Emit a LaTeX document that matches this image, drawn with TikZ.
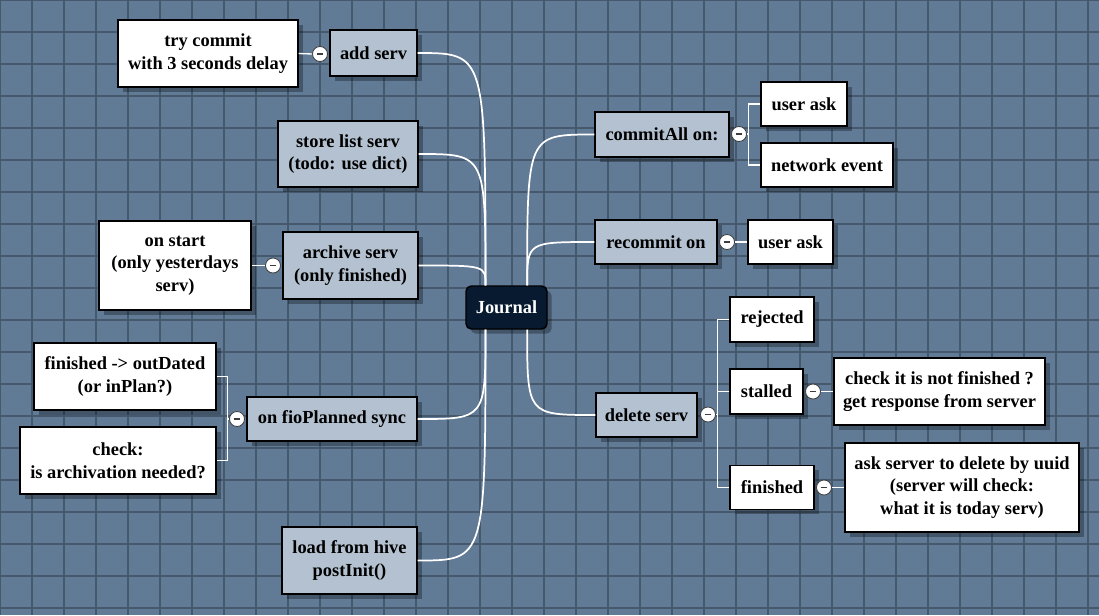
\documentclass[tikz,border=0pt]{standalone}
\usepackage{fontspec}
\setmainfont{Liberation Serif}
\usetikzlibrary{shadows}

\definecolor{mapbg}{RGB}{97,122,150}
\definecolor{mapgrid}{RGB}{70,88,108}
\definecolor{branchfill}{RGB}{179,193,208}
\definecolor{rootfill}{RGB}{7,26,48}
\definecolor{foldline}{RGB}{60,60,60}

\tikzset{every picture/.style={line width=0.75pt}}
\tikzset{
  mapbox/.style={draw=black, line width=1.1pt, align=center, inner sep=0pt,
    font=\bfseries\fontsize{13.8}{17}\selectfont,
    drop shadow={shadow xshift=3.5pt, shadow yshift=-3.5pt, fill=black, opacity=0.3}},
  branch/.style={mapbox, fill=branchfill},
  leaf/.style={mapbox, fill=white},
  rootbox/.style={mapbox, fill=rootfill, text=white, rounded corners=4pt},
  boxw/.style={minimum width=#1*0.75pt},
  boxh/.style={minimum height=#1*0.75pt},
  fold/.style={circle, draw=foldline, line width=0.6pt, fill=white, minimum size=11.25pt, inner sep=0pt,
    path picture={\draw[line width=0.8pt] ([xshift=-2.6pt]path picture bounding box.center) -- ([xshift=2.6pt]path picture bounding box.center);}},
  edge/.style={draw=white, line width=1.3pt},
  tick/.style={draw=white, line width=1pt},
  gridline/.style={draw=mapgrid, line width=1.2pt}
}

\begin{document}
\begin{tikzpicture}[x=0.75pt,y=0.75pt,yscale=-1,xscale=1]
	\useasboundingbox (0,0) rectangle (1099,615);
	\fill[mapbg] (0,0) rectangle (1099,615);
	%grid
	\foreach \gx in {0,32,...,1088} \draw[gridline] (\gx,0) -- (\gx,615);
	\foreach \gy in {0,32,...,608} \draw[gridline] (0,\gy) -- (1099,\gy);
	
	%root
	\node[rootbox, boxw=81, boxh=43] (journal) at (506.5,307.5) {Journal};
	\coordinate (jtl) at ([xshift=-15.75pt]journal.north);
	\coordinate (jbl) at ([xshift=-15.75pt]journal.south);
	\coordinate (jtr) at ([xshift=15.5pt]journal.north);
	\coordinate (jbr) at ([xshift=15.5pt]journal.south);
	
	%left branches
	\node[branch, boxw=87, boxh=46] (addserv) at (373.5,53) {add serv};
	\node[branch, boxw=140, boxh=66] (storelist) at (348,154) {store list serv\\(todo: use dict)};
	\node[branch, boxw=135, boxh=67] (archive) at (350.5,265.5) {archive serv\\(only finished)};
	\node[branch, boxw=170, boxh=44] (fiosync) at (332,419) {on fioPlanned sync};
	\node[branch, boxw=135, boxh=67] (loadhive) at (349.5,560.5) {load from hive\\postInit()};
	
	\node[leaf, boxw=180, boxh=67] (trycommit) at (208,53.5) {try commit\\with 3 seconds delay};
	\node[leaf, boxw=152, boxh=89] (onstart) at (175,265.5) {on start\\(only yesterdays\\serv)};
	\node[leaf, boxw=182, boxh=67] (outdated) at (125,376.5) {finished -> outDated\\(or inPlan?)};
	\node[leaf, boxw=196, boxh=67] (checkarch) at (118,460.5) {check:\\is archivation needed?};
	
	%right branches
	\node[branch, boxw=134, boxh=45] (commitall) at (662,134.5) {commitAll on:};
	\node[branch, boxw=122, boxh=44] (recommit) at (656,242) {recommit on};
	\node[branch, boxw=101, boxh=44] (deleteserv) at (646.5,415) {delete serv};
	
	\node[leaf, boxw=86, boxh=44] (userask) at (804,104) {user ask};
	\node[leaf, boxw=132, boxh=44] (netevent) at (827,165) {network event};
	\node[leaf, boxw=85, boxh=44] (useraskb) at (790.5,242) {user ask};
	\node[leaf, boxw=84, boxh=45] (rejected) at (772,319.5) {rejected};
	\node[leaf, boxw=73, boxh=45] (stalled) at (766.5,391.5) {stalled};
	\node[leaf, boxw=84, boxh=44] (finished) at (772,487.5) {finished};
	\node[leaf, boxw=211, boxh=67] (checkfin) at (939.5,391.5) {check it is not finished ?\\get response from server};
	\node[leaf, boxw=234, boxh=89] (askserver) at (962,487.5) {ask server to delete by uuid\\(server will check:\\what it is today serv)};
	
	%fold circles
	\node[fold] (foldadd) at (320,54) {};
	\node[fold] (foldarch) at (273,265.5) {};
	\node[fold] (foldfio) at (237,419) {};
	\node[fold] (foldcommit) at (739,134) {};
	\node[fold] (foldrecommit) at (727,242) {};
	\node[fold] (folddelete) at (708,414.5) {};
	\node[fold] (foldstalled) at (813,391.5) {};
	\node[fold] (foldfinished) at (824,487.5) {};
	
	%root edges
	\draw[edge] (addserv.east) .. controls (addserv.east -| jtl) and (addserv.east -| jtl) .. (jtl);
	\draw[edge] (storelist.east) .. controls (storelist.east -| jtl) and (storelist.east -| jtl) .. (jtl);
	\draw[edge] (archive.east) .. controls (archive.east -| jtl) and (archive.east -| jtl) .. (jtl);
	\draw[edge] (fiosync.east) .. controls (fiosync.east -| jbl) and (fiosync.east -| jbl) .. (jbl);
	\draw[edge] (loadhive.east) .. controls (loadhive.east -| jbl) and (loadhive.east -| jbl) .. (jbl);
	\draw[edge] (commitall.west) .. controls (commitall.west -| jtr) and (commitall.west -| jtr) .. (jtr);
	\draw[edge] (recommit.west) .. controls (recommit.west -| jtr) and (recommit.west -| jtr) .. (jtr);
	\draw[edge] (deleteserv.west) .. controls (deleteserv.west -| jbr) and (deleteserv.west -| jbr) .. (jbr);
	
	%child edges
	\draw[tick] (foldadd.west) -- (trycommit.east);
	\draw[tick] (foldarch.west) -- (onstart.east);
	\draw[tick] (foldrecommit.east) -- (useraskb.west);
	\draw[tick] (foldstalled.east) -- (checkfin.west);
	\draw[tick] (foldfinished.east) -- (askserver.west);
	\draw[tick] (outdated.east) -- ++(11,0) |- (checkarch.east);
	\draw[tick] (foldfio.west) -- ++(-2.5,0);
	\draw[tick] (userask.west) -- ++(-12,0) |- (netevent.west);
	\draw[tick] (foldcommit.east) -- ++(2.5,0);
	\draw[tick] (rejected.west) -- ++(-12,0) |- (finished.west);
	\draw[tick] (stalled.west) -- ++(-12,0);
	\draw[tick] (folddelete.east) -- ++(2.5,0);
	
\end{tikzpicture}
\end{document}
